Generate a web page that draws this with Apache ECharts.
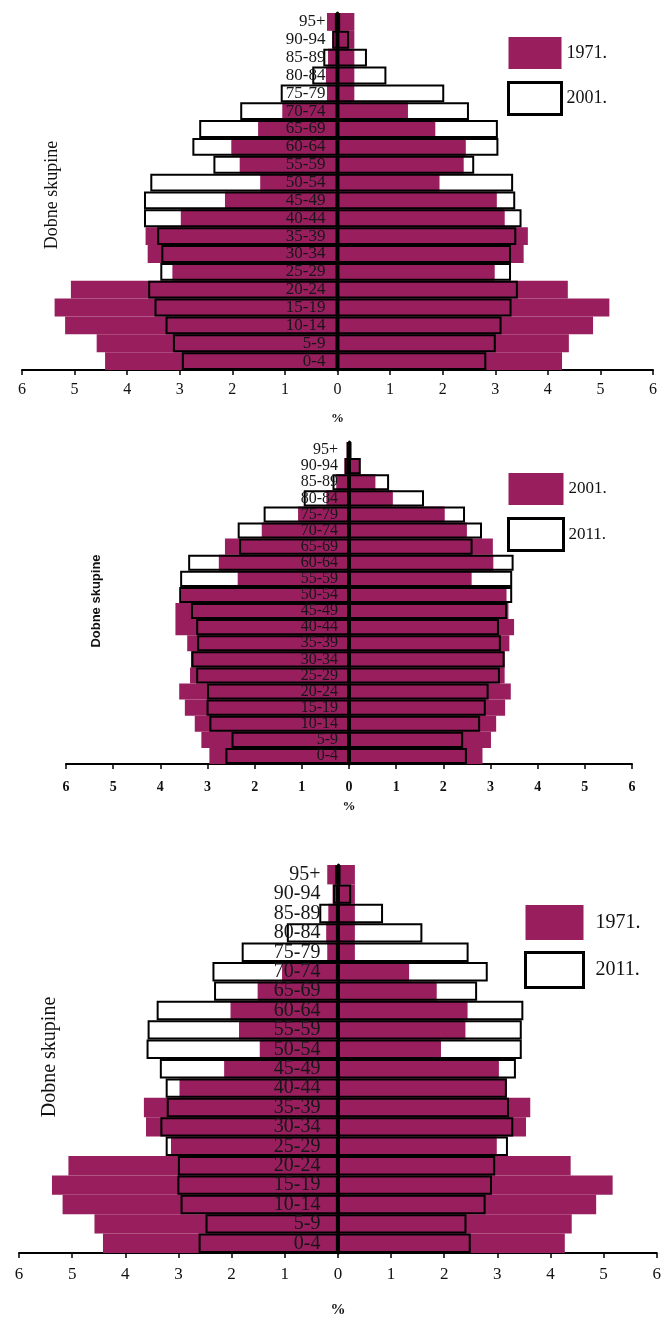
<!DOCTYPE html>
<html><head><meta charset="utf-8">
<script src="https://cdn.jsdelivr.net/npm/echarts@6/dist/echarts.min.js"></script>
<style>
html,body{margin:0;padding:0;background:#fff;width:664px;height:1323px;overflow:hidden}
.p{position:absolute;left:0;width:664px}
</style></head>
<body>
<div id="c1" class="p" style="top:0;height:430px"></div>
<div id="c2" class="p" style="top:430px;height:420px"></div>
<div id="c3" class="p" style="top:850px;height:473px"></div>
<script>
// Age groups, bottom to top
const ageGroups = ['0-4','5-9','10-14','15-19','20-24','25-29','30-34','35-39','40-44','45-49',
  '50-54','55-59','60-64','65-69','70-74','75-79','80-84','85-89','90-94','95+'];
// Axis range in % (labels shown as absolute values)
const axisMin = -6, axisMax = 6, axisStep = 1;

// Share of population (%) by age group; males on left, females on right
const m1971 = [4.42,4.58,5.18,5.38,5.07,3.14,3.61,3.65,2.98,2.14,1.47,1.86,2.02,1.51,1.05,0.20,0.22,0.18,0.10,0.20];
const f1971 = [4.27,4.40,4.86,5.17,4.38,2.99,3.54,3.62,3.18,3.03,1.94,2.40,2.44,1.86,1.34,0.32,0.32,0.32,0.32,0.32];
const m2001 = [2.96,3.13,3.27,3.48,3.60,3.37,3.35,3.43,3.68,3.68,3.56,2.36,2.76,2.63,1.85,1.08,0.48,0.27,0.10,0.05];
const f2001 = [2.83,3.01,3.12,3.31,3.43,3.30,3.30,3.40,3.50,3.38,3.34,2.60,3.06,3.05,2.50,2.03,0.93,0.56,0.22,0.05];
const m2011 = [2.62,2.49,2.96,3.02,3.01,3.24,3.34,3.22,3.24,3.35,3.60,3.58,3.41,2.33,2.36,1.81,0.96,0.35,0.09,0.05];
const f2011 = [2.50,2.42,2.78,2.90,2.96,3.20,3.30,3.22,3.18,3.35,3.46,3.46,3.49,2.62,2.82,2.46,1.59,0.85,0.25,0.05];

const yAxisTitle = 'Dobne skupine';
const xAxisTitle = '%';

const PURPLE = '#981E5E';
const SERIF = '"Liberation Serif","Times New Roman",serif';
const SANS = '"Liberation Sans",Arial,sans-serif';
const W = 664;

function build(el, c) {
  const chart = echarts.init(document.getElementById(el), null, {renderer:'canvas'});
  const neg = a => a.map(v => -v);
  const fill = {color: PURPLE};
  const outline = {color: 'rgba(0,0,0,0)', borderColor: '#000', borderWidth: 2};
  const base = {type:'bar', barWidth:'100%', barGap:'-100%'};
  const [gl, gr, gt, gh] = c.grid;
  // zero of the value axis (middle of symmetric axis); labels sit just left of it
  const zeroX = gl + (W - gl - gr) / 2;
  const labelMargin = gl - (zeroX - c.ageGap);
  chart.setOption({
    animation:false,
    grid:{left:gl, right:gr, top:gt, height:gh},
    xAxis:{
      type:'value', min:axisMin, max:axisMax, interval:axisStep,
      axisLine:{show:true, onZero:false, lineStyle:{color:'#000', width:2}},
      axisTick:{show:true, length:5, lineStyle:{color:'#000', width:1.5}},
      splitLine:{show:false},
      axisLabel:{formatter:v => String(Math.abs(v)), fontFamily:SERIF, fontSize:c.xFont, fontWeight:c.xWeight||'normal', color:'#111', margin:c.xMargin},
      name:xAxisTitle, nameLocation:'middle', nameGap:c.nameGap,
      nameTextStyle:{fontFamily:SERIF, fontSize:c.nameFont, color:'#111', fontWeight:'bold'}
    },
    yAxis:{
      type:'category', data:ageGroups, z:10,
      axisLine:{show:true, onZero:true, lineStyle:{color:'#000', width:3}},
      axisTick:{show:false}, splitLine:{show:false},
      axisLabel:{interval:0, fontFamily:SERIF, fontSize:c.ageFont, color:'#161616', margin:labelMargin, fontWeight:c.ageWeight||'normal'}
    },
    legend:{
      orient:'vertical', left:c.legend.left, top:c.legend.top,
      itemWidth:c.legend.w, itemHeight:c.legend.h, itemGap:c.legend.gap,
      selectedMode:false,
      textStyle:{fontFamily:SERIF, fontSize:c.legend.font, color:'#111', padding:[0,0,0,c.legend.pad||0]},
      data:[
        {name:c.names[0], icon:'rect', itemStyle:{color:PURPLE, borderWidth:0}},
        {name:c.names[1], icon:'rect', itemStyle:{color:'#fff', borderColor:'#000', borderWidth:3}}
      ]
    },
    series:[
      Object.assign({name:c.names[0], data:neg(c.a[0]), itemStyle:fill, z:2}, base),
      Object.assign({name:c.names[0], data:c.a[1], itemStyle:fill, z:2}, base),
      Object.assign({name:c.names[1], data:neg(c.b[0]), itemStyle:outline, z:3}, base),
      Object.assign({name:c.names[1], data:c.b[1], itemStyle:outline, z:3}, base)
    ],
    graphic:[{
      type:'text', x:c.yTitle.x, y:c.yTitle.y, rotation:Math.PI/2,
      style:{text:yAxisTitle, fill:'#111', font:c.yTitle.font, align:'center', verticalAlign:'middle'}
    }]
  });
}

build('c1', {
  grid:[22, 11, 13, 357], ageFont:17, ageGap:12, xFont:16, xMargin:12, nameGap:42, nameFont:13,
  legend:{left:502, top:32, w:53, h:32, gap:12, font:18},
  yTitle:{x:52, y:195, font:'18px ' + SERIF},
  names:['1971.', '2001.'], a:[m1971, f1971], b:[m2001, f2001]
});
build('c2', {
  grid:[66, 32, 12, 322], ageFont:16, ageGap:11, xFont:14, xWeight:'bold', xMargin:16, nameGap:36, nameFont:13,
  legend:{left:502, top:38, w:55, h:32, gap:12, font:17},
  yTitle:{x:96, y:171, font:'bold 13px ' + SANS},
  names:['2001.', '2011.'], a:[m2001, f2001], b:[m2011, f2011]
});
build('c3', {
  grid:[19, 6, 15, 396], ageFont:20, ageGap:18, xFont:17, xMargin:13, nameGap:50, nameFont:15,
  legend:{left:519, top:50, w:58, h:35, gap:11, font:20, pad:7},
  yTitle:{x:50, y:207, font:'20px ' + SERIF},
  names:['1971.', '2011.'], a:[m1971, f1971], b:[m2011, f2011]
});
</script>
</body></html>
